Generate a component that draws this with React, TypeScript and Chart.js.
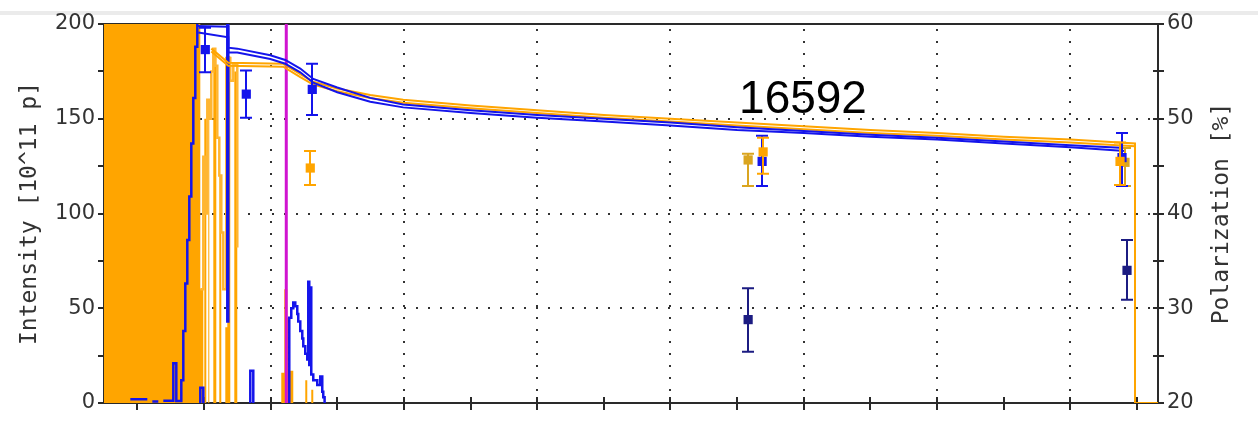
import React, { useEffect, useRef } from 'react';
import { Chart, registerables } from 'chart.js';

Chart.register(...registerables);

// ---------- axes ----------
const X_MIN = -0.5;
const X_MAX = 15.315;
const X_TICKS = [0, 1, 2, 3, 4, 5, 6, 7, 8, 9, 10, 11, 12, 13, 14, 15];
const X_GRID = [0, 2, 4, 6, 8, 10, 12, 14];
const LEFT_TICKS = [0, 25, 50, 75, 100, 125, 150, 175, 200];
const LEFT_GRID = [50, 100, 150];
const RIGHT_TICKS = [20, 25, 30, 35, 40, 45, 50, 55, 60];

const TITLE = '16592';
const LEFT_TITLE = 'Intensity [10^11 p]';
const RIGHT_TITLE = 'Polarization [%]';

// ---------- orange intensity histogram (filled) ----------
const orangeFillX = [-0.5, 0.945, 0.99, 1.005, 1.035, 1.065, 1.08, 1.14, 1.185, 1.23, 1.26, 1.32, 1.35, 1.395, 1.455, 1.5, 2.16, 2.205, 2.25, 2.265, 2.34, 2.52, 2.55, 2.61, 2.64, 2.7];
const orangeFillY = [300, 60, 0, 150, 0, 160, 0, 185, 0, 120, 0, 40, 183, 0, 175, 0, 16, 60, 45, 17, 0, 12, 0, 7, 0, 0];

// ---------- orange histogram outline spikes ----------
const orangeSpikeX = [0.945, 0.99, 1.02, 1.05, 1.08, 1.11, 1.14, 1.17, 1.2, 1.23, 1.26, 1.29, 1.335, 1.395, 1.44, 1.5];
const orangeSpikeY = [60, 130, 100, 160, 150, 175, 187, 178, 140, 120, 90, 60, 182, 170, 179, 82];

// ---------- blue intensity histogram ----------
const blueHistX = [-0.105, 0.15, 0.16, 0.225, 0.315, 0.33, 0.39, 0.54, 0.585, 0.66, 0.69, 0.72, 0.75, 0.78, 0.81, 0.84, 0.87, 0.9, 0.93, 0.94, 0.944, 0.945, 0.99, 1.0, 1.335, 1.35, 1.365, 1.375, 1.69, 1.695, 1.74, 1.75, 2.265, 2.28, 2.31, 2.34, 2.37, 2.4, 2.415, 2.445, 2.475, 2.49, 2.52, 2.55, 2.565, 2.58, 2.595, 2.61, 2.64, 2.7, 2.745, 2.775, 2.79, 2.81];
const blueHistY = [2, 2, null, 0.8, 0.8, null, 1.2, 21, 1, 12, 38, 63, 86, 109, 137, 161, 188, 205, 205, null, 0, 8, 0, null, 250, 43, 250, null, 0, 17, 0, null, 0, 45, 50, 53, 51, 47, 43, 38, 34, 30, 26, 23, 64, 20, 61, 15, 12, 9.5, 14, 6, 3, 0];

// ---------- intensity curves ----------
const blueCurveAX = [0.9, 1.365, 1.365, 1.5, 1.995, 2.22, 2.445, 2.64, 3.0, 3.495, 3.99, 5, 6, 7, 8, 9, 10, 11, 12, 13, 14, 14.82];
const blueCurveAY = [199, 198.5, 187.5, 187, 183.5, 181, 176.5, 171, 166.5, 161, 157.5, 154.5, 152, 150, 148, 145.5, 143.5, 141.5, 140, 138, 136, 134.5];
const blueCurveBX = [0.915, 1.365, 1.365, 1.5, 1.995, 2.22, 2.445, 2.64, 3.0, 3.495, 3.99, 5, 6, 7, 8, 9, 10, 11, 12, 13, 14, 14.82];
const blueCurveBY = [195.5, 193, 185, 185, 181.5, 179, 174.5, 169, 164, 159, 156, 153, 150.5, 148.5, 146.5, 144, 142.5, 140.5, 139, 137, 135, 133];

const orangeCurveAX = [1.11, 1.365, 2.19, 2.445, 2.64, 3.0, 3.495, 3.99, 5, 6, 7, 8, 9, 10, 11, 12, 13, 14, 14.97, 14.97, 15.315];
const orangeCurveAY = [187, 179.5, 179, 173.5, 169.5, 166, 162.5, 160, 157, 154.5, 152, 150, 148, 146, 144, 142.5, 140.5, 139, 137, 0, 0];
const orangeCurveBX = [1.11, 1.365, 2.19, 2.445, 2.64, 3.0, 3.495, 3.99, 5, 6, 7, 8, 9, 10, 11, 12, 13, 14, 14.97];
const orangeCurveBY = [185.5, 178, 177.5, 172, 168, 164.5, 161, 158.5, 155.5, 153, 150.5, 148.5, 146.5, 144.5, 142.5, 141, 139, 137.5, 135.5];

// ---------- marker line ----------
const markerLineX = [2.235, 2.235];
const markerLineY = [0, 200];

// ---------- polarization measurements (right axis) ----------
const blueMkX = [1.02, 1.635, 2.625, 9.375, 14.775];
const blueMkY = [57.3, 52.6, 53.1, 45.5, 45.9];
const blueMkLo = [54.9, 50.1, 50.4, 42.9, 42.9];
const blueMkHi = [59.6, 55.1, 55.8, 48.2, 48.5];

const orangeMkX = [2.595, 9.39, 14.745];
const orangeMkY = [44.8, 46.5, 45.5];
const orangeMkLo = [43.0, 44.2, 43.0];
const orangeMkHi = [46.6, 48.0, 47.5];

const goldMkX = [9.165, 14.82];
const goldMkY = [45.65, 45.4];
const goldMkLo = [42.9, 42.9];
const goldMkHi = [46.3, 46.9];

const navyMkX = [9.165, 14.85];
const navyMkY = [28.8, 34.0];
const navyMkLo = [25.4, 30.9];
const navyMkHi = [32.1, 37.2];

// ---------- colours ----------
const ORANGE = 'rgb(255,165,0)';
const ORANGE_LIGHT = 'rgb(255,182,50)';
const BLUE = 'rgb(20,20,235)';
const NAVY = 'rgb(28,28,130)';
const GOLD = 'rgb(218,165,32)';
const MAGENTA = 'rgb(208,20,208)';
const AXIS = '#2a2a2a';

const pts = (xs: number[], ys: (number | null)[]) => xs.map((x, i) => ({ x, y: ys[i] }));
const mk = (xs: number[], ys: number[], lo: number[], hi: number[]) =>
  xs.map((x, i) => ({ x, y: ys[i], yMin: lo[i], yMax: hi[i] }));

const errorBarPlugin = {
  id: 'errbars',
  beforeDatasetDraw(chart: any, args: any) {
    const ds = chart.data.datasets[args.index];
    if (!ds.errorBars) return;
    const meta = args.meta;
    const ys = chart.scales[meta.yAxisID];
    const ctx = chart.ctx;
    ctx.save();
    ctx.strokeStyle = ds.backgroundColor;
    ctx.lineWidth = 2;
    meta.data.forEach((p: any, i: number) => {
      const d = ds.data[i];
      const top = ys.getPixelForValue(d.yMax);
      const bot = ys.getPixelForValue(d.yMin);
      const px = Math.round(p.x);
      ctx.beginPath();
      ctx.moveTo(px, top);
      ctx.lineTo(px, bot);
      ctx.moveTo(px - 6, top);
      ctx.lineTo(px + 6, top);
      ctx.moveTo(px - 6, bot);
      ctx.lineTo(px + 6, bot);
      ctx.stroke();
    });
    ctx.restore();
  },
};

const decorPlugin = {
  id: 'decor',
  beforeDatasetsDraw(chart: any) {
    const { ctx, chartArea: a, scales } = chart;
    const xs = scales.x, yl = scales.y, yr = scales.y2;
    ctx.save();
    ctx.strokeStyle = '#333';
    ctx.lineWidth = 2;
    ctx.setLineDash([2, 10]);
    for (const v of X_GRID) {
      const px = Math.round(xs.getPixelForValue(v));
      ctx.beginPath();
      ctx.moveTo(px, a.bottom);
      ctx.lineTo(px, a.top);
      ctx.stroke();
    }
    for (const v of LEFT_GRID) {
      const py = Math.round(yl.getPixelForValue(v));
      ctx.beginPath();
      ctx.moveTo(a.left, py);
      ctx.lineTo(a.right, py);
      ctx.stroke();
    }
    ctx.setLineDash([]);
    ctx.strokeStyle = AXIS;
    ctx.lineWidth = 2;
    ctx.beginPath();
    ctx.moveTo(a.left, a.top);
    ctx.lineTo(a.right, a.top);
    ctx.lineTo(a.right, a.bottom);
    ctx.lineTo(a.left, a.bottom);
    ctx.lineTo(a.left, a.top);
    ctx.stroke();
    ctx.beginPath();
    for (const v of LEFT_TICKS) {
      const py = Math.round(yl.getPixelForValue(v));
      ctx.moveTo(a.left - 6, py);
      ctx.lineTo(a.left, py);
    }
    for (const v of RIGHT_TICKS) {
      const py = Math.round(yr.getPixelForValue(v));
      ctx.moveTo(a.right - 5, py);
      ctx.lineTo(a.right + 6, py);
    }
    for (const v of X_TICKS) {
      const px = Math.round(xs.getPixelForValue(v));
      ctx.moveTo(px, a.bottom - 6);
      ctx.lineTo(px, a.bottom + 7);
    }
    ctx.stroke();
    ctx.restore();
  },
  afterDatasetsDraw(chart: any) {
    const { ctx, chartArea: a } = chart;
    ctx.save();
    ctx.fillStyle = '#000';
    ctx.font = '46px "Liberation Sans", Arial, sans-serif';
    ctx.textAlign = 'center';
    ctx.textBaseline = 'alphabetic';
    ctx.fillText(TITLE, a.left + 699, a.top + 89);

    ctx.fillStyle = '#333';
    ctx.font = '23px "DejaVu Sans Mono", monospace';
    ctx.textBaseline = 'middle';
    ctx.save();
    ctx.translate(30, (a.top + a.bottom) / 2);
    ctx.rotate(-Math.PI / 2);
    ctx.fillText(LEFT_TITLE, 0, 0);
    ctx.restore();
    ctx.save();
    ctx.translate(a.right + 64, (a.top + a.bottom) / 2);
    ctx.rotate(-Math.PI / 2);
    ctx.fillText(RIGHT_TITLE, 0, 0);
    ctx.restore();
    ctx.restore();
  },
};

const tickFont = { family: '"DejaVu Sans", Verdana, sans-serif', size: 21 };

export default function App() {
  const ref = useRef<HTMLCanvasElement | null>(null);

  useEffect(() => {
    if (!ref.current) return;
    const scatter = (label: string, data: any[], color: string) => ({
      type: 'scatter' as const,
      label,
      data,
      yAxisID: 'y2',
      showLine: false,
      pointStyle: 'rect',
      pointRadius: 6.5,
      pointBackgroundColor: color,
      pointBorderWidth: 0,
      backgroundColor: color,
      borderColor: color,
      errorBars: true,
    });
    const line = (label: string, data: any[], color: string, width: number, extra: any = {}) => ({
      type: 'line' as const,
      label,
      data,
      yAxisID: 'y',
      borderColor: color,
      backgroundColor: color,
      borderWidth: width,
      pointRadius: 0,
      fill: false,
      tension: 0,
      ...extra,
    });

    const chart = new Chart(ref.current, {
      type: 'line',
      data: {
        datasets: [
          scatter('orange pol', mk(orangeMkX, orangeMkY, orangeMkLo, orangeMkHi), ORANGE),
          scatter('blue pol', mk(blueMkX, blueMkY, blueMkLo, blueMkHi), BLUE),
          scatter('gold pol', mk(goldMkX, goldMkY, goldMkLo, goldMkHi), GOLD),
          scatter('navy pol', mk(navyMkX, navyMkY, navyMkLo, navyMkHi), NAVY),
          line('blue A', pts(blueCurveAX, blueCurveAY), BLUE, 2),
          line('blue B', pts(blueCurveBX, blueCurveBY), BLUE, 2),
          line('orange A', pts(orangeCurveAX, orangeCurveAY), ORANGE, 2),
          line('orange B', pts(orangeCurveBX, orangeCurveBY), ORANGE, 2),
          line('blue hist', pts(blueHistX, blueHistY), BLUE, 2.5, { stepped: 'before' }),
          line('marker', pts(markerLineX, markerLineY), MAGENTA, 3),
          line('orange spikes', pts(orangeSpikeX, orangeSpikeY), ORANGE_LIGHT, 2.5, { stepped: 'before' }),
          line('orange fill', pts(orangeFillX, orangeFillY), 'rgba(0,0,0,0)', 1, {
            stepped: 'before',
            fill: 'origin',
            backgroundColor: ORANGE,
          }),
        ] as any,
      },
      options: {
        responsive: false,
        animation: false,
        events: [],
        layout: { padding: { top: 24, left: 0, right: 0, bottom: 0 } },
        plugins: { legend: { display: false }, tooltip: { enabled: false }, title: { display: false } },
        scales: {
          x: {
            type: 'linear',
            min: X_MIN,
            max: X_MAX,
            afterBuildTicks: (s: any) => { s.ticks = X_TICKS.map((v) => ({ value: v })); },
            ticks: { display: false },
            grid: { display: false, drawTicks: false },
            border: { display: false },
            afterFit: (s: any) => { s.height = 30; },
          },
          y: {
            type: 'linear',
            position: 'left',
            min: 0,
            max: 200,
            afterBuildTicks: (s: any) => { s.ticks = LEFT_TICKS.map((v) => ({ value: v })); },
            ticks: {
              autoSkip: false,
              padding: 9,
              color: '#333',
              font: tickFont,
              callback: (v: any) => (v % 50 === 0 ? String(v) : ''),
            },
            grid: { display: false, drawTicks: false },
            border: { display: false },
            afterFit: (s: any) => { s.width = 104; },
          },
          y2: {
            type: 'linear',
            position: 'right',
            min: 20,
            max: 60,
            afterBuildTicks: (s: any) => { s.ticks = RIGHT_TICKS.map((v) => ({ value: v })); },
            ticks: {
              autoSkip: false,
              padding: 9,
              color: '#333',
              font: tickFont,
              callback: (v: any) => (v % 10 === 0 ? String(v) : ''),
            },
            grid: { display: false, drawTicks: false },
            border: { display: false },
            afterFit: (s: any) => { s.width = 100; },
          },
        },
      } as any,
      plugins: [decorPlugin, errorBarPlugin],
    });
    return () => chart.destroy();
  }, []);

  return (
    <div style={{ position: 'fixed', left: 0, top: 0, width: 1258, height: 433, background: '#fff' }}>
      <div style={{ position: 'absolute', left: 0, top: 11, width: 1258, height: 4, background: '#ebebeb' }} />
      <canvas ref={ref} width={1258} height={433} style={{ position: 'absolute', left: 0, top: 0, width: 1258, height: 433 }} />
    </div>
  );
}
